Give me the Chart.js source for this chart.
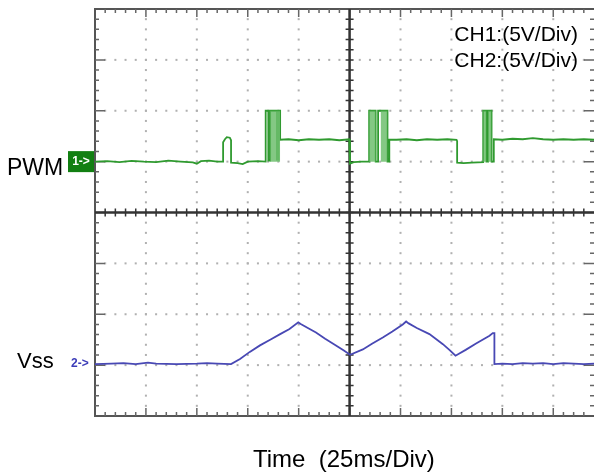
<!DOCTYPE html>
<html>
<head>
<meta charset="utf-8">
<script src="https://cdn.jsdelivr.net/npm/chart.js@4.4.0/dist/chart.umd.min.js"></script>
<style>
html, body { margin: 0; padding: 0; background: #fff; }
#wrap { width: 596px; height: 472px; }
</style>
</head>
<body>
<div id="wrap"><canvas id="scope" width="596" height="472"></canvas></div>
<script>
// CH1 (PWM) trace: time in ms, volts above the channel ground
var ch1Time = [0, 6, 12, 18, 24, 30, 36, 42, 48, 50, 52, 56, 60, 62.9, 62.9, 63.8, 64.7, 66.2, 66.8, 66.8, 70, 72.5, 75, 80,
	83.8, 83.8, 85.1, 85.1, 86.0, 86.0, 89.3, 89.3, 90.2, 90.2, 90.9, 90.9,
	95, 100, 105, 110, 115, 120, 124.8, 125.2, 125.2, 127, 131, 134.6, 134.6, 137.8, 137.8, 139.0, 139.0, 143.6, 143.6, 144.5, 144.5,
	148, 153, 158, 163, 168, 173, 177.5, 177.8, 177.8, 181, 185, 190.6, 190.6, 192.2, 192.2, 193.0, 193.0, 194.7, 194.7, 195.8, 195.8,
	200, 205, 210, 215, 220, 225, 230, 235, 240, 245];
var ch1Volt = [0, 0.05, -0.05, 0.08, 0, -0.05, 0.1, 0, -0.08, -0.2, 0.05, 0.1, 0, 0, 1.9, 2.2, 2.4, 2.35, 2.1, -0.1, -0.15, -0.25, 0, 0.05,
	0, 5, 5, 0.1, 0.1, 5, 5, 0.2, 0.2, 5, 5, 2.15,
	2.2, 2.1, 2.2, 2.15, 2.2, 2.1, 2.2, 2.0, -0.2, -0.05, 0, 0, 5, 5, 0, 0, 5, 5, 0, 0, 2.15,
	2.15, 2.2, 2.1, 2.2, 2.15, 2.2, 2.15, 2.0, -0.1, -0.15, -0.1, -0.05, 5, 5, 0, 0, 5, 5, 0, 0, 2.2,
	2.15, 2.25, 2.2, 2.3, 2.2, 2.15, 2.2, 2.15, 2.2, 2.15];

// CH1 switching bursts, drawn as filled blocks
var burstStart = [86.0, 134.6, 140.2, 190.6, 193.0];
var burstEnd = [90.9, 137.8, 143.6, 192.2, 194.7];
var burstVolt = 5;

// CH2 (Vss) trace
var ch2Time = [0, 8, 14, 20, 26, 30, 40, 50, 55, 60, 66.8, 71.2, 76, 81, 86, 90.9, 95.5, 99.8, 101, 104.5, 108.5, 113, 118.3, 122, 125.25,
	131.5, 136, 141.3, 146, 151.1, 152.75, 154, 158, 164.2, 170.8, 174, 177, 182, 187.1, 193.7, 195.3, 196.1, 196.1,
	200, 205, 210, 215, 220, 225, 230, 235, 240, 245];
var ch2Volt = [0, 0.05, 0.1, 0, 0.15, 0.05, 0, 0.05, 0.1, 0.05, 0, 0.5, 1.2, 1.84, 2.4, 2.95, 3.45, 4.1, 3.95, 3.55, 3.11, 2.5, 1.84, 1.35, 0.92,
	1.44, 2.0, 2.62, 3.2, 3.9, 4.19, 4.0, 3.55, 2.95, 1.96, 1.4, 0.83, 1.4, 2.03, 2.79, 3.05, 3.05, 0,
	0.05, 0, 0.1, 0.05, 0.1, 0, 0.1, 0.05, 0, 0.05];

var channelNames = ["PWM", "Vss"];
var scaleLabels = ["CH1:(5V/Div)", "CH2:(5V/Div)"];
var timeLabel = "Time  (25ms/Div)";

// Scope settings
var msPerDiv = 25;
var voltPerDiv = 5;
var ch1Offset = 1.0;    // divisions above centre
var ch2Offset = -2.98;
var divX = 9.8;         // visible horizontal divisions
var divY = 4;           // divisions each side of centre

var FONT = '"Liberation Sans", Arial, sans-serif';

function toPoints(t, v) {
	var pts = [];
	for (var i = 0; i < t.length; i++) pts.push({ x: t[i], y: v[i] });
	return pts;
}

function burstPoints() {
	var pts = [];
	for (var i = 0; i < burstStart.length; i++) {
		pts.push({ x: burstStart[i], y: burstVolt });
		pts.push({ x: burstEnd[i], y: burstVolt });
		pts.push({ x: burstEnd[i], y: null });
	}
	return pts;
}

// Draws the graticule: dotted grid, frame, ticks and centre cross
var scopeFrame = {
	id: 'scopeFrame',
	beforeDatasetsDraw: function (chart) {
		var ctx = chart.ctx;
		var xs = chart.scales.x, ys = chart.scales.div;
		var a = chart.chartArea;
		function px(d) { return xs.getPixelForValue(d * msPerDiv); }
		function py(d) { return ys.getPixelForValue(d); }
		var nx = Math.round(divX * 5), ny = divY * 10;
		var i, k, x, y, len;

		ctx.save();

		// dotted grid lines
		ctx.fillStyle = '#b0b0b0';
		for (i = 1; i < 10; i++) {
			if (i == 5) continue;
			x = px(i);
			for (k = 1; k < ny; k++) ctx.fillRect(x - 1, py(-divY + k / 5) - 1, 2, 2);
		}
		for (i = -divY + 1; i < divY; i++) {
			if (i == 0) continue;
			y = py(i);
			for (k = 1; k < nx; k++) ctx.fillRect(px(k / 5) - 1, y - 1, 2, 2);
		}

		// frame
		ctx.strokeStyle = '#555';
		ctx.lineWidth = 2;
		ctx.beginPath();
		ctx.moveTo(a.right, a.top); ctx.lineTo(a.left, a.top);
		ctx.lineTo(a.left, a.bottom); ctx.lineTo(a.right, a.bottom);
		ctx.stroke();

		// frame ticks
		ctx.strokeStyle = '#666';
		ctx.lineWidth = 1.5;
		ctx.beginPath();
		for (k = 1; k < nx; k++) {
			x = px(k / 5);
			len = (k % 5 == 0) ? 8 : 4;
			ctx.moveTo(x, a.top); ctx.lineTo(x, a.top + len);
			ctx.moveTo(x, a.bottom); ctx.lineTo(x, a.bottom - len);
		}
		for (k = 1; k < ny; k++) {
			y = py(-divY + k / 5);
			len = (k % 5 == 0) ? 10 : 4;
			ctx.moveTo(a.left, y); ctx.lineTo(a.left + len, y);
			ctx.moveTo(a.right, y); ctx.lineTo(a.right - len, y);
		}
		ctx.stroke();

		// centre cross
		var cx = px(5), cy = py(0);
		ctx.strokeStyle = '#333';
		ctx.lineWidth = 2.5;
		ctx.beginPath();
		ctx.moveTo(a.left, cy); ctx.lineTo(a.right, cy);
		ctx.moveTo(cx, a.top); ctx.lineTo(cx, a.bottom);
		ctx.stroke();
		ctx.lineWidth = 1.5;
		ctx.beginPath();
		for (k = 1; k < nx; k++) {
			x = px(k / 5);
			ctx.moveTo(x, cy - 4); ctx.lineTo(x, cy + 4);
		}
		for (k = 1; k < ny; k++) {
			y = py(-divY + k / 5);
			ctx.moveTo(cx - 4, y); ctx.lineTo(cx + 4, y);
		}
		ctx.stroke();
		ctx.restore();
	},
	afterDraw: function (chart) {
		var ctx = chart.ctx;
		var y1 = chart.scales.y.getPixelForValue(0);
		var y2 = chart.scales.y2.getPixelForValue(0);
		ctx.save();

		// channel names
		ctx.fillStyle = '#000';
		ctx.textAlign = 'left';
		ctx.textBaseline = 'alphabetic';
		ctx.font = '23px ' + FONT;
		ctx.fillText(channelNames[0], 7, 175);
		ctx.font = '22px ' + FONT;
		ctx.fillText(channelNames[1], 17, 368);

		// volts/div labels
		ctx.font = '21px ' + FONT;
		ctx.textAlign = 'right';
		ctx.fillText(scaleLabels[0], 578, 41);
		ctx.fillText(scaleLabels[1], 578, 67);

		// time axis label
		ctx.font = '24px ' + FONT;
		ctx.textAlign = 'left';
		ctx.fillText(timeLabel, 253, 467);

		// ground markers
		ctx.fillStyle = '#127f12';
		ctx.fillRect(68, y1 - 10.5, 26, 21);
		ctx.fillStyle = '#fff';
		ctx.font = 'bold 12px ' + FONT;
		ctx.textAlign = 'center';
		ctx.textBaseline = 'middle';
		ctx.fillText('1->', 81, y1);
		ctx.fillStyle = '#3c3cb8';
		ctx.textAlign = 'left';
		ctx.fillText('2->', 71, y2);
		ctx.restore();
	}
};

new Chart(document.getElementById('scope'), {
	type: 'scatter',
	data: {
		datasets: [{
			label: 'CH1 bursts',
			data: burstPoints(),
			yAxisID: 'y',
			showLine: true,
			spanGaps: false,
			fill: { value: 0 },
			backgroundColor: 'rgba(110,190,110,0.85)',
			borderColor: '#3aa03a',
			borderWidth: 1,
			pointRadius: 0
		}, {
			label: 'PWM',
			data: toPoints(ch1Time, ch1Volt),
			yAxisID: 'y',
			showLine: true,
			borderColor: '#2f9a2f',
			borderWidth: 1.8,
			pointRadius: 0,
			tension: 0
		}, {
			label: 'Vss',
			data: toPoints(ch2Time, ch2Volt),
			yAxisID: 'y2',
			showLine: true,
			borderColor: '#4848b4',
			borderWidth: 1.8,
			pointRadius: 0,
			tension: 0
		}]
	},
	options: {
		responsive: false,
		animation: false,
		devicePixelRatio: 1,
		layout: { padding: { left: 95, top: 9, right: 2, bottom: 56 } },
		plugins: { legend: { display: false }, tooltip: { enabled: false } },
		scales: {
			x: { type: 'linear', min: 0, max: divX * msPerDiv, display: false },
			y: { type: 'linear', min: (-divY - ch1Offset) * voltPerDiv, max: (divY - ch1Offset) * voltPerDiv, display: false },
			y2: { type: 'linear', axis: 'y', min: (-divY - ch2Offset) * voltPerDiv, max: (divY - ch2Offset) * voltPerDiv, display: false },
			div: { type: 'linear', axis: 'y', position: 'left', min: -divY, max: divY, display: false }
		}
	},
	plugins: [scopeFrame]
});
</script>
</body>
</html>
